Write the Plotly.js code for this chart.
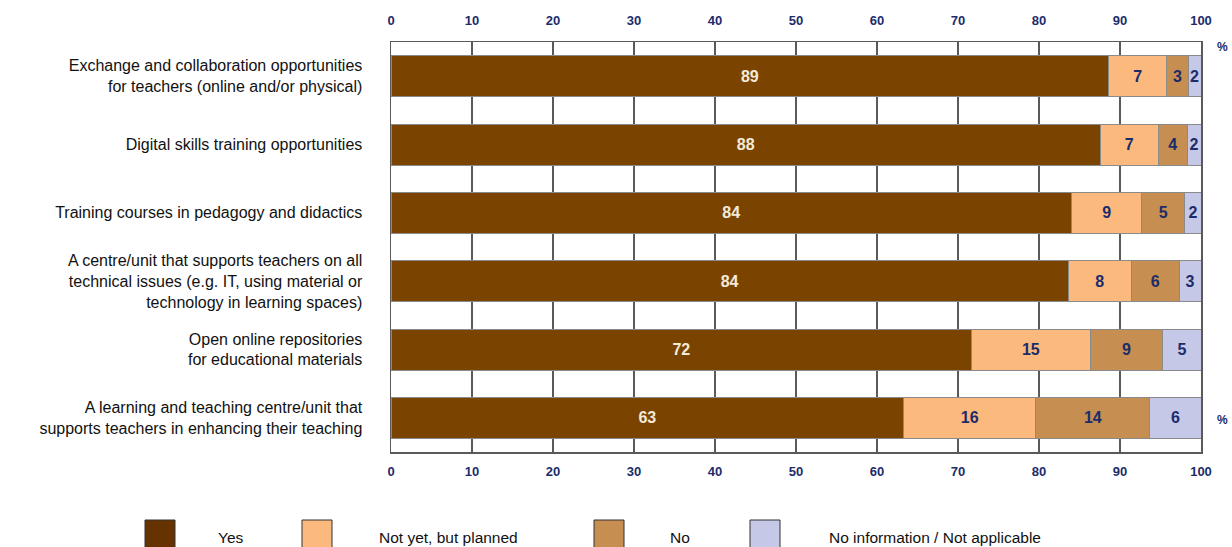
<!DOCTYPE html>
<html>
<head>
<meta charset="utf-8">
<script src="https://cdn.plot.ly/plotly-3.0.1.min.js"></script>
<style>
html,body{margin:0;padding:0;background:#fff;}
#chart{width:1232px;height:547px;}
</style>
</head>
<body>
<div id="chart"></div>
<script>
const categories = [
  "Exchange and collaboration opportunities<br>for teachers (online and/or physical)",
  "Digital skills training opportunities",
  "Training courses in pedagogy and didactics",
  "A centre/unit that supports teachers on all<br>technical issues (e.g. IT, using material or<br>technology in learning spaces)",
  "Open online repositories<br>for educational materials",
  "A learning and teaching centre/unit that<br>supports teachers in enhancing their teaching"
];
const seriesNames = ["Yes", "Not yet, but planned", "No", "No information / Not applicable"];
const yesValues       = [88.6, 87.6, 84.0, 83.6, 71.7, 63.3];
const plannedValues   = [7.2, 7.1, 8.7, 7.8, 14.6, 16.3];
const noValues        = [2.6, 3.6, 5.3, 5.9, 9.0, 14.1];
const noInfoValues    = [1.6, 1.7, 2.0, 2.7, 4.7, 6.3];
const tickValues = [0, 10, 20, 30, 40, 50, 60, 70, 80, 90, 100];

const barColors    = ["#7a4400", "#fbb97e", "#c68e50", "#c6c8e7"];
const legendColors = ["#663300", "#fbb97e", "#c68e50", "#c6c8e7"];
const textColors   = ["#f3ead9", "#1c2c6b", "#1c2c6b", "#1c2c6b"];
const allValues = [yesValues, plannedValues, noValues, noInfoValues];

const boldFont = 'Liberation Sans, Arial, sans-serif';

const traces = allValues.map((vals, i) => ({
  type: 'bar',
  orientation: 'h',
  name: seriesNames[i],
  x: vals,
  y: categories,
  marker: {color: barColors[i], line: {color: '#8a8a8a', width: 1}},
  texttemplate: '%{x:.0f}',
  textposition: 'inside',
  insidetextanchor: 'middle',
  textangle: 0,
  textfont: {family: boldFont, size: 16, color: textColors[i], weight: 'bold'},
  hoverinfo: 'skip',
  showlegend: false
}));
// invisible trace to carry the top axis
traces.push({
  type: 'scatter', x: [0, 100], y: [categories[0], categories[0]],
  xaxis: 'x2', mode: 'markers', marker: {opacity: 0}, hoverinfo: 'skip', showlegend: false
});

const W = 810, H = 410, L = 391, T = 42;
const px = X => (X - L) / W;
const py = Y => (T + H - Y) / H;

const legendSquares = [145, 302, 594, 750];
const legendTexts = [216, 377, 668, 827];
const shapes = [];
const annotations = [];
seriesNames.forEach((n, i) => {
  shapes.push({
    type: 'rect', xref: 'paper', yref: 'paper',
    x0: px(legendSquares[i]), x1: px(legendSquares[i] + 30),
    y0: py(520), y1: py(549),
    fillcolor: legendColors[i], line: {color: '#333', width: 1}
  });
  annotations.push({
    xref: 'paper', yref: 'paper', x: px(legendTexts[i]), y: py(537),
    xanchor: 'left', yanchor: 'middle', showarrow: false, text: n,
    font: {family: 'Liberation Sans, Arial, sans-serif', size: 15.5, color: '#111'}
  });
});
[47, 420].forEach(Y => annotations.push({
  xref: 'paper', yref: 'paper', x: px(1215), y: py(Y),
  xanchor: 'left', yanchor: 'middle', showarrow: false, text: '%',
  font: {family: boldFont, size: 12, color: '#1c2c6b', weight: 'bold'}
}));

const axisCommon = {
  range: [0, 100],
  tickvals: tickValues,
  ticktext: tickValues.map(String),
  showgrid: true,
  gridcolor: '#5a5a5a',
  gridwidth: 1.5,
  zeroline: false,
  ticks: '',
  tickfont: {family: boldFont, size: 13, color: '#1c2c6b', weight: 'bold'},
  fixedrange: true
};

const layout = {
  width: 1232, height: 547,
  margin: {l: L, r: 1232 - L - W, t: T, b: 547 - T - H, pad: 0},
  paper_bgcolor: '#fff', plot_bgcolor: '#fff',
  barmode: 'stack',
  bargap: 0.4,
  uniformtext: {mode: 'show', minsize: 16},
  xaxis: Object.assign({}, axisCommon, {
    side: 'bottom', showline: true, linecolor: '#5a5a5a', linewidth: 1.5, mirror: true,
    ticklabelstandoff: 7
  }),
  xaxis2: Object.assign({}, axisCommon, {
    side: 'top', overlaying: 'x', matches: 'x', showgrid: false, showline: false,
    ticklabelstandoff: 13
  }),
  yaxis: {
    type: 'category',
    autorange: 'reversed',
    showgrid: false, zeroline: false,
    showline: true, linecolor: '#5a5a5a', linewidth: 1.5, mirror: true,
    ticks: '',
    ticklabelstandoff: 24,
    tickfont: {family: 'Liberation Sans, Arial, sans-serif', size: 16, color: '#111'},
    fixedrange: true
  },
  shapes: shapes,
  annotations: annotations,
  showlegend: false
};

Plotly.newPlot('chart', traces, layout, {displayModeBar: false, staticPlot: true});
</script>
</body>
</html>
